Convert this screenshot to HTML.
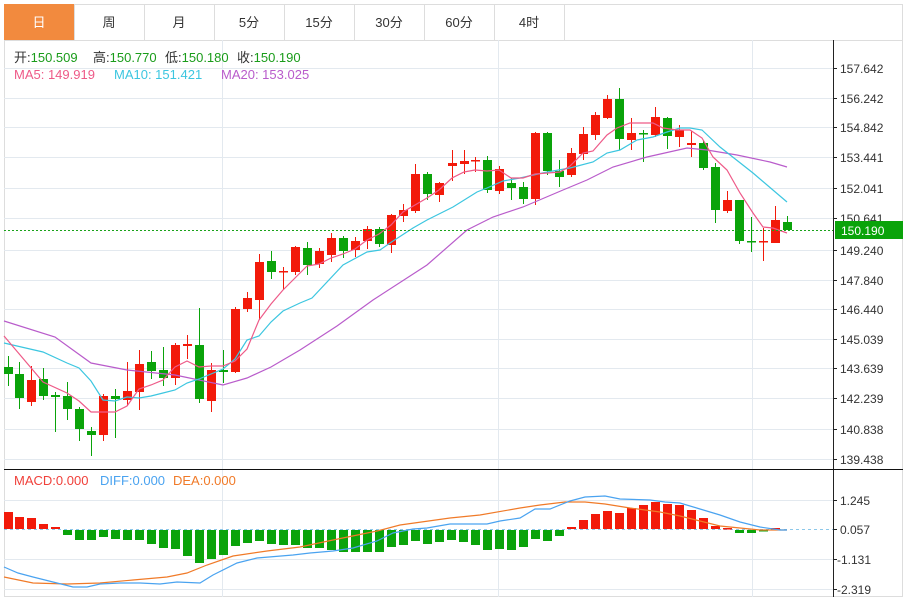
<!DOCTYPE html>
<html><head><meta charset="utf-8"><style>
body{margin:0;background:#fff;font-family:"Liberation Sans","Noto Sans CJK SC",sans-serif;}
svg{display:block}
</style></head><body>
<svg width="907" height="597" viewBox="0 0 907 597" xmlns="http://www.w3.org/2000/svg" font-family="Liberation Sans, Noto Sans CJK SC, sans-serif">
<rect x="0" y="0" width="907" height="597" fill="#fff"/>
<!-- tabs -->
<rect x="4.5" y="4.5" width="898" height="36" fill="#fff" stroke="#ddd"/>
<rect x="4" y="4" width="70" height="36" fill="#f28a3e"/>
<g stroke="#ddd"><path d="M74.5 4V40M144.5 4V40M214.5 4V40M284.5 4V40M354.5 4V40M424.5 4V40M494.5 4V40M564.5 4V40"/></g>
<g font-size="13" fill="#333" text-anchor="middle">
<text x="39" y="27" fill="#fff">日</text><text x="109" y="27">周</text><text x="179" y="27">月</text><text x="249" y="27">5分</text><text x="319" y="27">15分</text><text x="389" y="27">30分</text><text x="459" y="27">60分</text><text x="529" y="27">4时</text>
</g>
<rect x="4.5" y="40.5" width="898" height="556" fill="none" stroke="#ddd"/>
<!-- grid -->
<g stroke="#e3e9ef" stroke-width="1">
<path d="M4 68.5H833M4 98.5H833M4 127.5H833M4 157.5H833M4 188.5H833M4 218.5H833M4 250.5H833M4 280.5H833M4 309.5H833M4 339.5H833M4 368.5H833M4 398.5H833M4 429.5H833M4 459.5H833"/>
<path d="M4 500.5H833M4 559.5H833M4 589.5H833"/>
<path d="M222.5 40V597M498.5 40V597M752.5 40V597"/>
</g>
<!-- legend -->
<g font-size="13">
<text x="14" y="62"><tspan fill="#333">开:</tspan><tspan fill="#1a9c1a">150.509</tspan></text>
<text x="93" y="62"><tspan fill="#333">高:</tspan><tspan fill="#1a9c1a">150.770</tspan></text>
<text x="165" y="62"><tspan fill="#333">低:</tspan><tspan fill="#1a9c1a">150.180</tspan></text>
<text x="237" y="62"><tspan fill="#333">收:</tspan><tspan fill="#1a9c1a">150.190</tspan></text>
<text x="14" y="79" fill="#ee5a88">MA5: 149.919</text>
<text x="114" y="79" fill="#3cc6e0">MA10: 151.421</text>
<text x="221" y="79" fill="#b95ccb">MA20: 153.025</text>
<text x="14" y="485" fill="#f0403a">MACD:0.000</text>
<text x="100" y="485" fill="#4aa3f0">DIFF:0.000</text>
<text x="173" y="485" fill="#f07a28">DEA:0.000</text>
</g>
<!-- candles red -->
<g fill="#f21a0a" stroke="#f21a0a">
<path fill="none" d="M31.5 366V406M103.5 394V441M127.5 362V406M139.5 350V410M175.5 343V385M187.5 335V359M211.5 363V412M235.5 307V373M247.5 292V312M259.5 254V320M283.5 267V290M295.5 246V275M319.5 248V268M331.5 233V262M355.5 237V257M367.5 226V249M391.5 214V253M403.5 204V222M415.5 164V213M439.5 182V202M452.5 150V181M464.5 150V174M475.5 157V172M499.5 166V194M535.5 132V205M571.5 148V177M583.5 127V160M595.5 112V140M607.5 95V119M631.5 118V150M655.5 107V137M679.5 125V147M691.5 131V157M727.5 191V213M763.5 228V261M775.5 206V243"/>
<g stroke="none">
<rect x="27" y="380" width="9" height="22"/><rect x="99" y="396" width="9" height="39"/><rect x="123" y="391" width="9" height="9"/><rect x="135" y="364" width="9" height="28"/><rect x="171" y="345" width="9" height="33"/><rect x="183" y="344" width="9" height="2"/><rect x="207" y="370" width="9" height="31"/><rect x="231" y="309" width="9" height="63"/><rect x="243" y="298" width="9" height="11"/><rect x="255" y="262" width="9" height="38"/><rect x="279" y="271" width="9" height="1.5"/><rect x="291" y="247" width="9" height="25"/><rect x="315" y="251" width="9" height="13"/><rect x="327" y="238" width="9" height="17"/><rect x="351" y="241" width="9" height="9"/><rect x="363" y="229" width="9" height="12"/><rect x="387" y="215" width="9" height="30"/><rect x="399" y="210" width="9" height="6"/><rect x="411" y="174" width="9" height="37"/><rect x="435" y="183" width="9" height="12"/><rect x="448" y="163" width="9" height="3"/><rect x="460" y="161" width="9" height="3"/><rect x="471" y="160" width="9" height="1.5"/><rect x="495" y="169" width="9" height="22"/><rect x="531" y="133" width="9" height="66"/><rect x="567" y="153" width="9" height="22"/><rect x="579" y="134" width="9" height="20"/><rect x="591" y="115" width="9" height="20"/><rect x="603" y="99" width="9" height="19"/><rect x="627" y="133" width="9" height="7"/><rect x="651" y="117" width="9" height="18"/><rect x="675" y="130" width="9" height="7"/><rect x="687" y="143" width="9" height="2"/><rect x="723" y="200" width="9" height="11"/><rect x="759" y="241" width="9" height="1.5"/><rect x="771" y="220" width="9" height="23"/>
</g></g>
<!-- candles green -->
<g fill="#0aa30a" stroke="#0aa30a">
<path fill="none" d="M8.5 356V386M19.5 362V409M43.5 368V400M55.5 392V432M67.5 382V420M79.5 407V441M91.5 427V456M115.5 389V438M151.5 351V379M163.5 347V386M199.5 308V403M223.5 350V383M271.5 251V279M307.5 242V275M343.5 236V258M379.5 227V247M427.5 172V200M487.5 156V193M511.5 178V200M523.5 182V204M547.5 132V175M559.5 160V187M619.5 88V150M643.5 130V162M667.5 117V149M703.5 140V170M715.5 163V223M739.5 200V244M751.5 217V252M787.5 216V230"/>
<g stroke="none">
<rect x="4" y="367" width="9" height="7"/><rect x="15" y="374" width="9" height="24"/><rect x="39" y="379" width="9" height="17"/><rect x="51" y="395" width="9" height="2"/><rect x="63" y="396" width="9" height="13"/><rect x="75" y="409" width="9" height="20"/><rect x="87" y="431" width="9" height="4"/><rect x="111" y="396" width="9" height="3"/><rect x="147" y="362" width="9" height="9"/><rect x="159" y="370" width="9" height="8"/><rect x="195" y="345" width="9" height="54"/><rect x="219" y="370" width="9" height="2"/><rect x="267" y="261" width="9" height="11"/><rect x="303" y="248" width="9" height="17"/><rect x="339" y="238" width="9" height="13"/><rect x="375" y="229" width="9" height="15"/><rect x="423" y="174" width="9" height="20"/><rect x="483" y="160" width="9" height="30"/><rect x="507" y="183" width="9" height="5"/><rect x="519" y="187" width="9" height="12"/><rect x="543" y="133" width="9" height="38"/><rect x="555" y="171" width="9" height="6"/><rect x="615" y="99" width="9" height="40"/><rect x="639" y="133" width="9" height="1.5"/><rect x="663" y="118" width="9" height="18"/><rect x="699" y="143" width="9" height="25"/><rect x="711" y="167" width="9" height="43"/><rect x="735" y="200" width="9" height="41"/><rect x="747" y="241" width="9" height="1.5"/><rect x="783" y="222" width="9" height="8"/>
</g></g>
<!-- MA lines -->
<g fill="none" stroke-width="1.2">
<polyline stroke="#b95ccb" points="4,321 55,337 91,363 127,370 175,375 199,380 223,385 247,378 271,367 300,350 337,326 373,300 427,265 467,230 493,217 523,207 563,190 587,180 613,167 647,157 687,148 707,150 737,155 770,162 787,167"/>
<polyline stroke="#3cc6e0" points="4,343 43,352 67,363 79,368 91,381 103,400 115,401 127,397 139,398 151,396 163,393 175,390 187,383 199,379 211,374 223,369 235,359 247,340 259,336 271,322 283,311 300,303 312,298 343,265 367,252 380,250 390,243 413,228 427,220 453,207 477,192 487,188 503,181 520,178 547,172 570,168 593,162 607,153 620,150 637,140 653,137 667,132 680,128 690,128 702,130 720,147 753,173 787,202"/>
<polyline stroke="#ee5a88" points="4,336 43,382 67,393 79,401 91,412 103,412 115,412 127,406 139,389 151,385 163,380 175,367 187,361 199,367 211,366 223,366 235,361 247,349 259,320 271,304 283,290 295,278 307,266 319,264 331,258 343,254 355,249 367,240 379,234 391,225 403,212 415,205 427,198 439,190 452,178 464,172 475,170 487,171 499,170 511,178 523,178 535,174 560,172 570,166 583,153 593,151 607,135 617,128 630,123 653,123 663,128 677,130 690,130 702,138 713,157 727,170 740,193 753,213 763,227 773,228 787,233"/>
</g>
<!-- price line -->
<path d="M4 230.5H833" stroke="#1aa31a" stroke-dasharray="2,2"/>
<!-- MACD zero -->
<path d="M4 529.5H833" stroke="#8cc8ea" stroke-dasharray="3,3"/>
<!-- MACD bars -->
<g fill="#f21a0a">
<rect x="4" y="512" width="9" height="17"/><rect x="15" y="517" width="9" height="12"/><rect x="27" y="518" width="9" height="11"/><rect x="39" y="524" width="9" height="5"/><rect x="51" y="527" width="9" height="2"/>
<rect x="567" y="527" width="9" height="2"/><rect x="579" y="520" width="9" height="9"/><rect x="591" y="514" width="9" height="15"/><rect x="603" y="511" width="9" height="18"/><rect x="615" y="513" width="9" height="16"/><rect x="627" y="508" width="9" height="21"/><rect x="639" y="505" width="9" height="24"/><rect x="651" y="502" width="9" height="27"/><rect x="663" y="504" width="9" height="25"/><rect x="675" y="505" width="9" height="24"/><rect x="687" y="510" width="9" height="19"/><rect x="699" y="518" width="9" height="11"/><rect x="711" y="526" width="9" height="3"/><rect x="723" y="528" width="9" height="1.5"/><rect x="771" y="528" width="9" height="1.5"/>
</g>
<g fill="#0aa30a">
<rect x="63" y="530" width="9" height="5"/><rect x="75" y="530" width="9" height="10"/><rect x="87" y="530" width="9" height="10"/><rect x="99" y="530" width="9" height="7"/><rect x="111" y="530" width="9" height="9"/><rect x="123" y="530" width="9" height="10"/><rect x="135" y="530" width="9" height="10"/><rect x="147" y="530" width="9" height="14"/><rect x="159" y="530" width="9" height="18"/><rect x="171" y="530" width="9" height="19"/><rect x="183" y="530" width="9" height="26"/><rect x="195" y="530" width="9" height="33"/><rect x="207" y="530" width="9" height="29"/><rect x="219" y="530" width="9" height="25"/><rect x="231" y="530" width="9" height="16"/><rect x="243" y="530" width="9" height="13"/><rect x="255" y="530" width="9" height="11"/><rect x="267" y="530" width="9" height="14"/><rect x="279" y="530" width="9" height="15"/><rect x="291" y="530" width="9" height="15"/><rect x="303" y="530" width="9" height="18"/><rect x="315" y="530" width="9" height="18"/><rect x="327" y="530" width="9" height="20"/><rect x="339" y="530" width="9" height="22"/><rect x="351" y="530" width="9" height="22"/><rect x="363" y="530" width="9" height="22"/><rect x="375" y="530" width="9" height="22"/><rect x="387" y="530" width="9" height="17"/><rect x="399" y="530" width="9" height="15"/><rect x="411" y="530" width="9" height="11"/><rect x="423" y="530" width="9" height="14"/><rect x="435" y="530" width="9" height="12"/><rect x="447" y="530" width="9" height="10"/><rect x="459" y="530" width="9" height="12"/><rect x="471" y="530" width="9" height="15"/><rect x="483" y="530" width="9" height="20"/><rect x="495" y="530" width="9" height="19"/><rect x="507" y="530" width="9" height="20"/><rect x="519" y="530" width="9" height="17"/><rect x="531" y="530" width="9" height="9"/><rect x="543" y="530" width="9" height="11"/><rect x="555" y="530" width="9" height="6"/><rect x="735" y="530" width="9" height="3"/><rect x="747" y="530" width="9" height="3"/><rect x="759" y="530" width="9" height="1.5"/>
</g>
<g fill="none" stroke-width="1.2">
<polyline stroke="#f07a28" points="4,577 33,583 67,584 100,583 133,580 167,577 187,573 207,565 233,556 267,551 300,547 333,540 377,531 400,525 450,518 480,515 520,508 540,505 565,502 585,502 605,504 630,508 660,512 680,516 700,521 720,526 740,528 760,530 787,530"/>
<polyline stroke="#4aa3f0" points="4,567 18,573 33,577 53,582 73,587 87,587 100,584 120,583 140,583 160,584 177,582 200,583 213,575 237,563 257,558 293,555 310,553 333,551 353,548 377,541 393,533 413,529 427,528 450,524 487,524 500,521 520,518 535,509 550,509 570,501 585,497 605,496 620,499 650,500 665,502 680,503 700,509 720,515 740,522 760,527 780,530 787,530"/>
</g>
<!-- axis -->
<path d="M833.5 40V597" stroke="#222"/>
<path d="M4 469.5H903" stroke="#111"/>
<g stroke="#222"><path d="M833 68.5h4M833 98.5h4M833 127.5h4M833 157.5h4M833 188.5h4M833 218.5h4M833 250.5h4M833 280.5h4M833 309.5h4M833 339.5h4M833 368.5h4M833 398.5h4M833 429.5h4M833 459.5h4M833 500.5h4M833 529.5h4M833 559.5h4M833 589.5h4"/></g>
<g font-size="12" fill="#333">
<text x="840" y="73">157.642</text><text x="840" y="103">156.242</text><text x="840" y="132">154.842</text><text x="840" y="162">153.441</text><text x="840" y="193">152.041</text><text x="840" y="223">150.641</text><text x="840" y="255">149.240</text><text x="840" y="285">147.840</text><text x="840" y="314">146.440</text><text x="840" y="344">145.039</text><text x="840" y="373">143.639</text><text x="840" y="403">142.239</text><text x="840" y="434">140.838</text><text x="840" y="464">139.438</text>
<text x="840" y="505">1.245</text><text x="840" y="534">0.057</text><text x="837" y="564">-1.131</text><text x="837" y="594">-2.319</text>
</g>
<rect x="835" y="221" width="68" height="18" fill="#0aa30a"/>
<text x="841" y="235" font-size="12" fill="#fff">150.190</text>
</svg>
</body></html>
